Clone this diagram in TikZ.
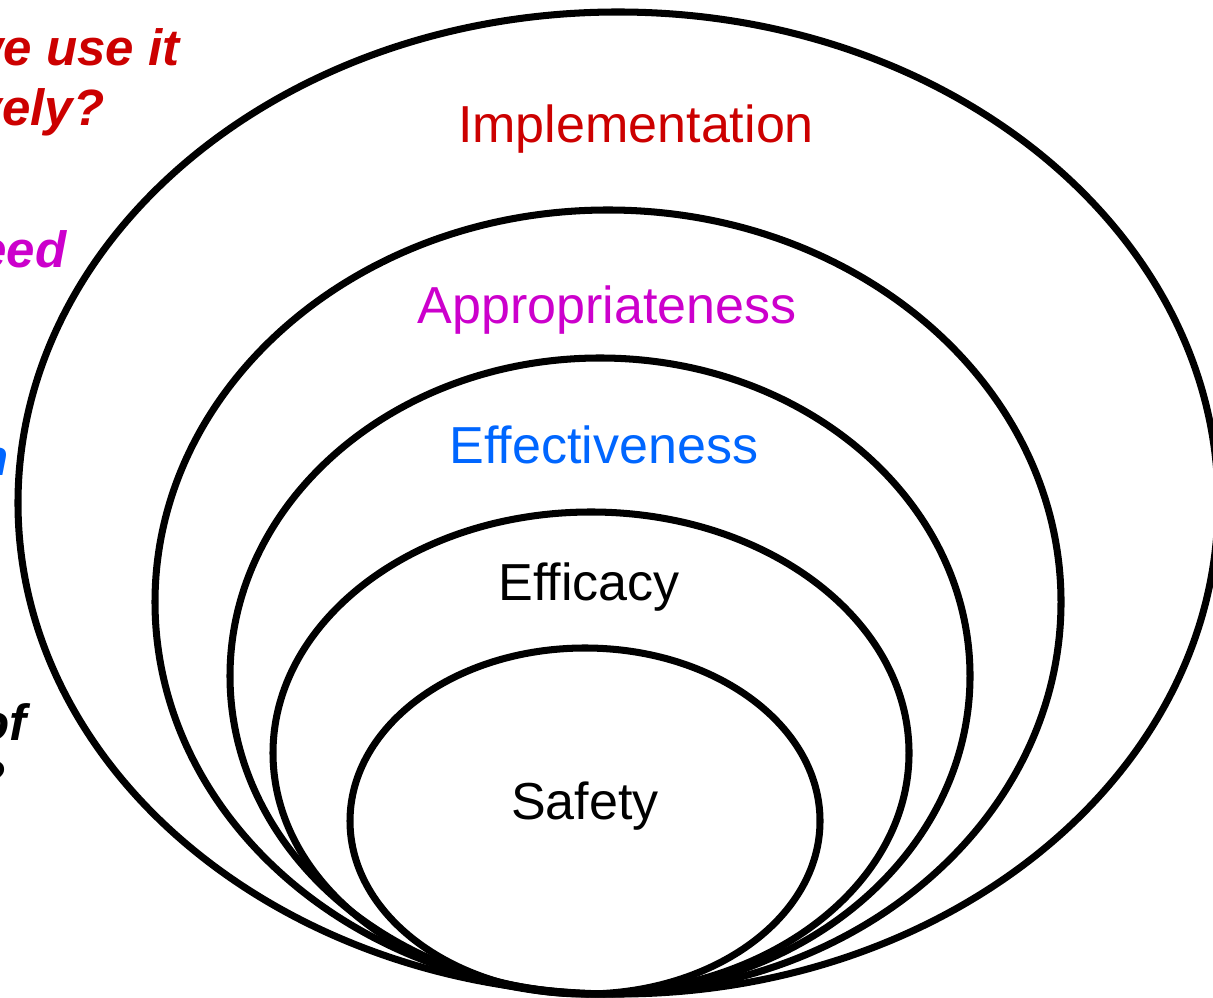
\documentclass[tikz,border=0pt]{standalone}
\usepackage{fontspec}
\setmainfont{Liberation Sans}
\usetikzlibrary{positioning}
\definecolor{impred}{RGB}{204,0,0}
\definecolor{appmag}{RGB}{204,0,204}
\definecolor{effblue}{RGB}{0,102,255}
\begin{document}
\begin{tikzpicture}[x=0.01cm, y=0.01cm,
		ring/.style={line width=2pt, draw=black},
		lvl/.style={font=\fontsize{14.8}{18}\selectfont, inner sep=0pt},
		side/.style={font=\fontsize{14.5}{18}\selectfont\bfseries\itshape, inner sep=0pt, anchor=base east}]
		\useasboundingbox (0,0) rectangle (1213,-998);
		\clip (0,0) rectangle (1213,-998);
		\begin{scope}
			\draw[ring] (618,-503) ellipse (600 and 491);
			\draw[ring] (608,-602) ellipse (453 and 392);
			\draw[ring] (600,-676) ellipse (370 and 318);
			\draw[ring] (591,-753) ellipse (318 and 241);
			\draw[ring] (585,-821) ellipse (235 and 173);
		\end{scope}
		\begin{scope}
			\node[lvl, text=impred] (impl) at (636,-129) {Implementation};
			\node[lvl, text=appmag] (appr) at (607,-310) {Appropriateness};
			\node[lvl, text=effblue] (effe) at (604,-445) {Effectiveness};
			\node[lvl] (effi) at (589,-587) {Efficacy};
			\node[lvl] (safe) at (585,-806) {Safety};
		\end{scope}
		\begin{scope}
			\node[side, text=impred] (q1a) at (180,-66) {we use it};
			\node[side, text=impred] (q1b) at (105,-126) {vely?};
			\node[side, text=appmag] (q2) at (67,-268) {eed};
			\node[side, text=effblue] (q3) at (9,-476) {n};
			\node[side] (q4a) at (27,-740) {of};
			\node[side] (q4b) at (6,-796) {?};
		\end{scope}
	\end{tikzpicture}
\end{document}
